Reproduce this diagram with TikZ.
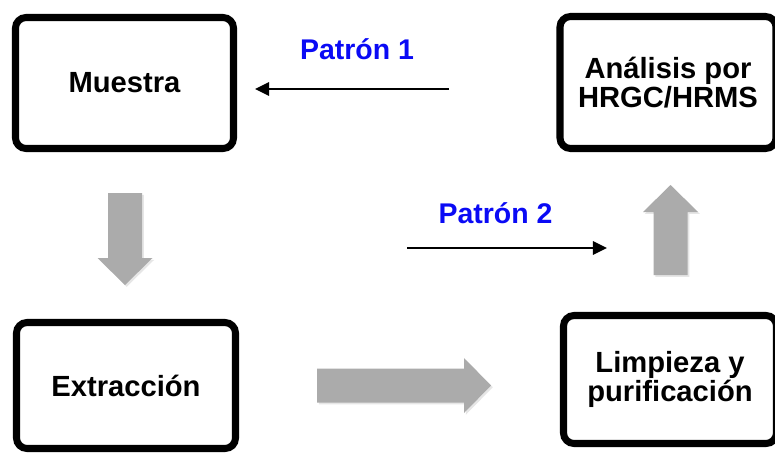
\documentclass[tikz,border=0pt]{standalone}
\usepackage{fontspec}
\setmainfont{Liberation Sans}
\usetikzlibrary{arrows.meta, positioning, shadows}
\definecolor{patblue}{HTML}{0A0AF5}
\definecolor{arrgray}{HTML}{ABABAB}

\begin{document}
\begin{tikzpicture}[
  every node/.style={font=\fontsize{16.6}{14.6}\selectfont\bfseries},
  stage/.style={rectangle, rounded corners=6pt, draw=black, line width=4pt, fill=white, align=center, inner sep=0pt,
    drop shadow={shadow xshift=1.6pt, shadow yshift=-1.6pt, opacity=0.3}},
  patlabel/.style={text=patblue, anchor=base, font=\fontsize{16.2}{19}\selectfont\bfseries},
  patarrow/.style={-{Triangle[length=8pt,width=7.5pt]}, line width=1.3pt},
  pics/bigarrow/.style={code={
    \fill[arrgray, drop shadow={shadow xshift=1pt, shadow yshift=-1pt, opacity=0.2}]
      (0,-0.34) -- ({#1-0.54},-0.34) -- ({#1-0.54},-0.55) -- (#1,0)
      -- ({#1-0.54},0.55) -- ({#1-0.54},0.34) -- (0,0.34) -- cycle;
  }},
]
\useasboundingbox (0,0) rectangle (15.5,-9.06);

\node[stage, minimum width=4.36cm, minimum height=2.62cm] (muestra) at (2.49,-1.66) {Muestra};
\node[stage, minimum width=4.32cm, minimum height=2.64cm] (analisis) at (13.36,-1.65) {Análisis por\\HRGC/HRMS};
\node[stage, minimum width=4.38cm, minimum height=2.52cm] (extraccion) at (2.52,-7.71) {Extracción};
\node[stage, minimum width=4.26cm, minimum height=2.56cm] (limpieza) at (13.40,-7.59) {Limpieza y\\purificación};

% big gray arrows
\pic[rotate=-90] at (2.50,-3.86) {bigarrow=1.84};
\pic at (6.34,-7.71) {bigarrow=3.48};
\pic[rotate=90] at (13.41,-5.5) {bigarrow=1.8};

% standards
\node[patlabel] (pat1) at (7.14,-1.18) {Patrón 1};
\coordinate (p1a) at (8.98,-1.78);
\coordinate (p1b) at (5.1,-1.78);
\draw[patarrow] (p1a) -- (p1b);

\node[patlabel] (pat2) at (9.91,-4.46) {Patrón 2};
\coordinate (p2a) at (8.14,-4.96);
\coordinate (p2b) at (12.14,-4.96);
\draw[patarrow] (p2a) -- (p2b);

\end{tikzpicture}
\end{document}
